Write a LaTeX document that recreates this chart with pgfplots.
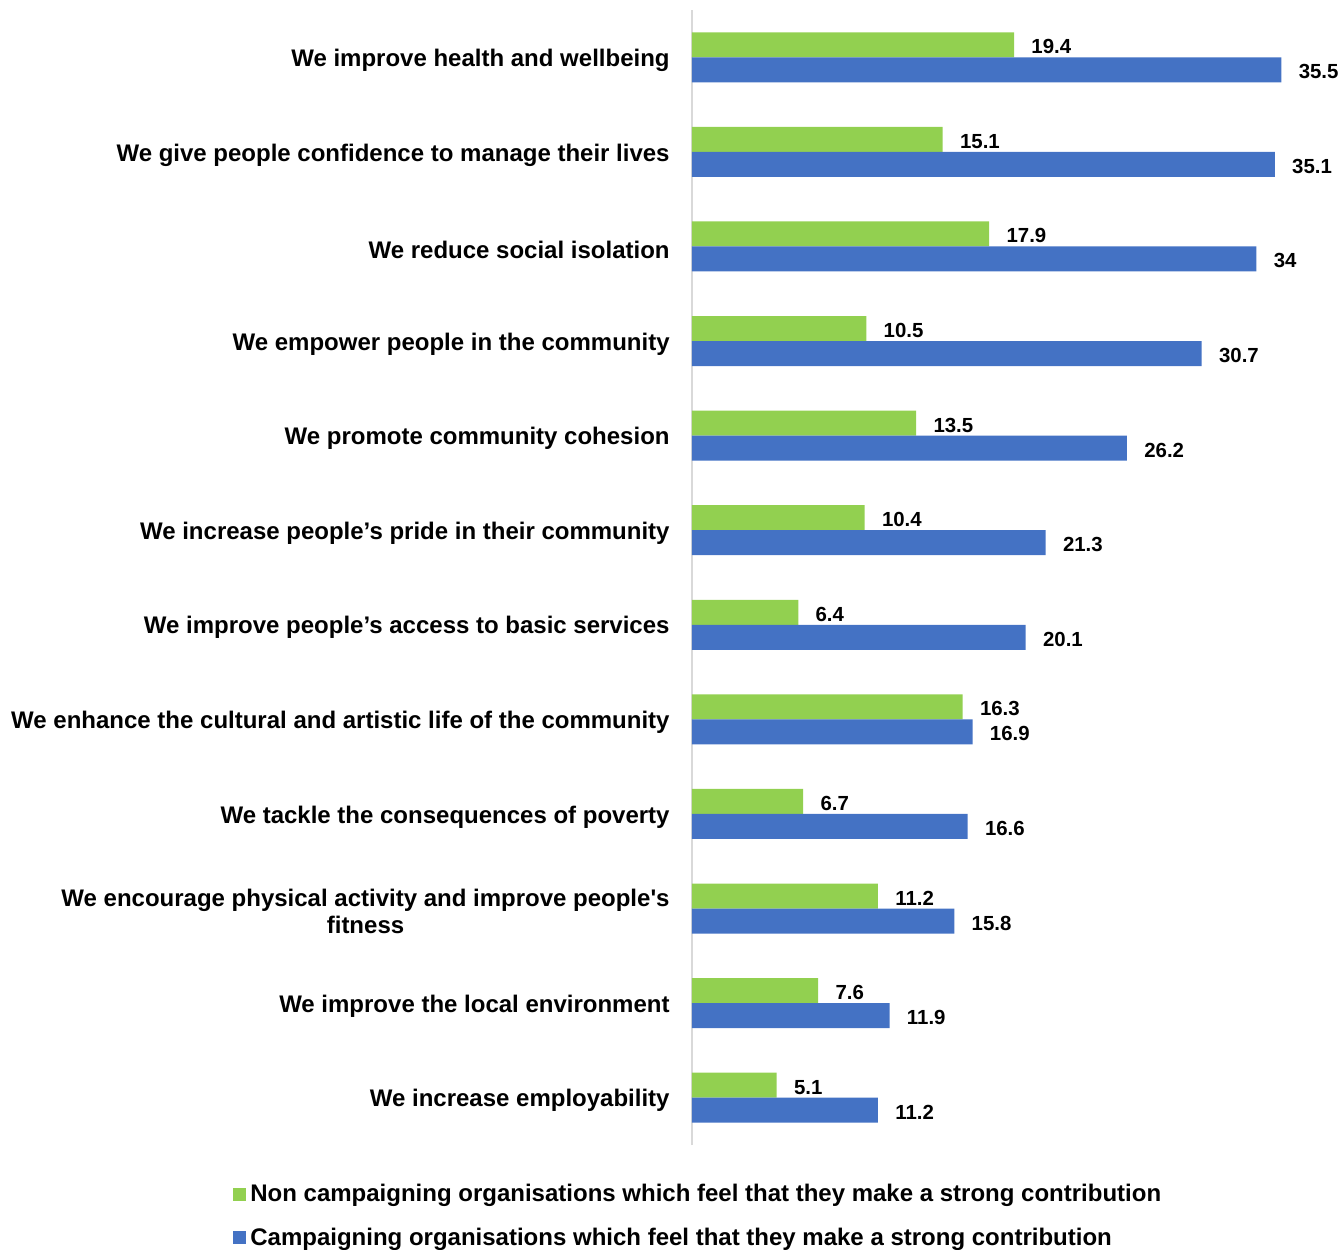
\documentclass[border=0pt]{standalone}
\usepackage{pgfplots}
\pgfplotsset{compat=1.18}
\usepackage{fontspec}
\setmainfont{Liberation Sans}
\definecolor{cgreen}{HTML}{92D050}
\definecolor{cblue}{HTML}{4472C4}
\definecolor{caxis}{HTML}{D9D9D9}
\begin{document}
\begin{tikzpicture}
\useasboundingbox (-346pt,-52pt) rectangle (325.5pt,572.5pt);
\begin{axis}[
  at={(0,0)}, anchor=south west,
  scale only axis,
  width=303pt, height=567.5pt,
  xmin=0, xmax=36.5,
  ymin=-0.5, ymax=11.5,
  xbar, bar width=12.5pt,
  axis x line=none,
  axis y line*=left,
  y axis line style={draw=caxis, line width=1pt, -},
  ytick={0,...,11},
  major tick length=0pt,
  ytick style={draw=none},
  yticklabels={
    We increase employability,
    We improve the local environment,
    {We encourage physical activity and improve people\textquotesingle s\\fitness},
    We tackle the consequences of poverty,
    We enhance the cultural and artistic life of the community,
    We improve people’s access to basic services,
    We increase people’s pride in their community,
    We promote community cohesion,
    We empower people in the community,
    We reduce social isolation,
    We give people confidence to manage their lives,
    We improve health and wellbeing},
  yticklabel style={font=\fontsize{12}{13.5}\selectfont\bfseries, align=center, anchor=east, inner sep=0pt, xshift=-11pt, yshift=-1.5pt},
  nodes near coords,
  nodes near coords style={font=\fontsize{10.2}{11}\selectfont\bfseries, anchor=west, inner sep=0pt, xshift=8.5pt, yshift=-1pt, /pgf/number format/assume math mode=true},
  legend style={
    at={(-229.5pt,-17.5pt)}, anchor=north west,
    draw=none, fill=none, inner sep=0pt,
    font=\fontsize{12}{13.5}\selectfont\bfseries,
    legend cell align=left,
    row sep=7.5pt,
    /tikz/every odd column/.style={column sep=0pt},
  },
  legend image code/.code={\fill (0pt,-3.25pt) rectangle (6.5pt,3.25pt);},
]
\addplot[fill=cgreen, draw=none, bar shift=6.25pt] coordinates {
  (5.1,0) (7.6,1) (11.2,2) (6.7,3) (16.3,4) (6.4,5) (10.4,6) (13.5,7) (10.5,8) (17.9,9) (15.1,10) (19.4,11)};
\addlegendentry{Non campaigning organisations which feel that they make a strong contribution}
\addplot[fill=cblue, draw=none, bar shift=-6.25pt] coordinates {
  (11.2,0) (11.9,1) (15.8,2) (16.6,3) (16.9,4) (20.1,5) (21.3,6) (26.2,7) (30.7,8) (34,9) (35.1,10) (35.5,11)};
\addlegendentry{Campaigning organisations which feel that they make a strong contribution}
\end{axis}
\end{tikzpicture}
\end{document}
